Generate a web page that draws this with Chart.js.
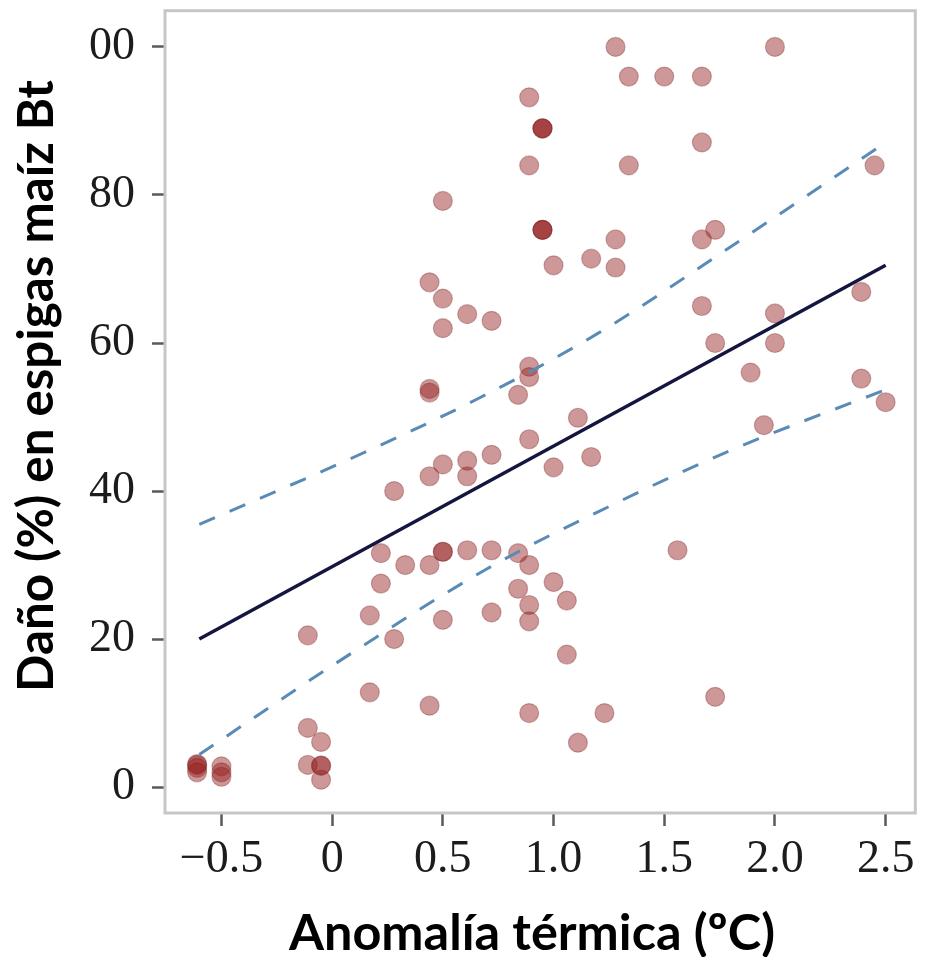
<!DOCTYPE html>
<html><head><meta charset="utf-8">
<script src="https://cdn.jsdelivr.net/npm/chart.js@4/dist/chart.umd.min.js"></script>
<style>html,body{margin:0;padding:0;background:#fff;} canvas{display:block;}</style>
</head><body>
<canvas id="c" width="926" height="957"></canvas>
<script>
const xTitle = 'Anomalía térmica (ºC)';
const yTitle = 'Daño (%) en espigas maíz Bt';
const xTickValues = [-0.5, 0, 0.5, 1, 1.5, 2, 2.5];
const xTickLabels = ['−0.5', '0', '0.5', '1.0', '1.5', '2.0', '2.5'];
const yTickValues = [0, 20, 40, 60, 80, 100];
const yTickLabels = ['0', '20', '40', '60', '80', '00'];

// observations (anomalía térmica, daño %)
const anomalia = [
  1.28, 2.00, 1.34, 1.50, 1.67, 0.89, 0.95, 0.95, 0.95, 1.67,
  0.89, 1.34, 2.45, 0.50, 0.95, 0.95, 0.95, 1.73, 1.28, 1.67,
  1.17, 1.00, 1.28, 2.39, 0.44, 0.50, 1.67, 0.61, 2.00, 0.72,
  0.50, 1.73, 2.00, 0.89, 0.89, 1.89, 2.39, 0.44, 0.44, 0.84,
  2.50, 1.11, 1.95, 0.89, 1.17, 0.72, 0.50, 0.61, 0.61, 0.44,
  1.00, 0.28, 0.22, 0.50, 0.50, 0.61, 0.72, 0.84, 1.56, 0.33,
  0.44, 0.89, 0.22, 1.00, 0.84, 1.06, 0.89, 0.72, 0.17, 0.50,
  0.89, 0.28, -0.11, 1.06, 0.17, 1.73, 0.44, 0.89, 1.23, 1.11,
  -0.11, -0.05, -0.11, -0.05, -0.05, -0.05, -0.61, -0.61, -0.61, -0.61,
  -0.50, -0.50, -0.50
];
const dano = [
  100.0, 100.0, 96.0, 96.0, 96.0, 93.2, 89.0, 89.0, 89.0, 87.1,
  84.0, 84.0, 84.0, 79.2, 75.3, 75.3, 75.3, 75.3, 74.0, 74.0,
  71.4, 70.5, 70.2, 66.9, 68.2, 66.0, 65.0, 63.9, 64.0, 63.0,
  62.0, 60.0, 60.0, 56.8, 55.4, 56.0, 55.2, 53.8, 53.3, 53.0,
  52.0, 49.9, 48.9, 47.0, 44.6, 44.9, 43.6, 44.1, 42.0, 42.0,
  43.2, 40.0, 31.6, 31.8, 31.8, 32.0, 32.0, 31.6, 32.0, 30.0,
  30.0, 30.0, 27.5, 27.7, 26.8, 25.2, 24.6, 23.6, 23.2, 22.6,
  22.4, 20.0, 20.5, 17.9, 12.8, 12.2, 11.0, 10.0, 10.0, 6.0,
  8.0, 6.1, 3.0, 2.9, 2.9, 1.0, 3.1, 3.0, 2.6, 2.0,
  2.8, 2.0, 1.4
];

// fitted regression line
const fitX = [-0.6, 2.5];
const fitY = [20.0, 70.5];
// dashed band limits
const upperX = [-0.6, 0.1, 0.66, 1.2, 1.84, 2.5];
const upperY = [35.5, 44.6, 52.5, 61.3, 73.8, 87.1];
const lowerX = [-0.6, 0.0, 0.7, 1.25, 1.8, 2.5];
const lowerY = [4.4, 16.4, 29.5, 37.9, 45.5, 53.7];

const toXY = (xs, ys) => xs.map((x, i) => ({x: x, y: ys[i]}));

const tickFont = {family: "'Liberation Serif', 'Times New Roman', serif", size: 46};
const titleFamily = "Lato, 'Noto Sans', sans-serif";

function fitFont(ctx, text, target) {
  ctx.font = 'bold 100px ' + titleFamily;
  return 100 * target / ctx.measureText(text).width;
}

const framePlugin = {
  id: 'frameAndTitles',
  afterDraw(chart) {
    const ctx = chart.ctx, a = chart.chartArea;
    ctx.save();
    ctx.strokeStyle = '#c6c6c6';
    ctx.lineWidth = 3;
    ctx.strokeRect(a.left, a.top, a.right - a.left, a.bottom - a.top);
    ctx.fillStyle = '#000';
    // x title
    let fs = fitFont(ctx, xTitle, 486);
    ctx.font = 'bold ' + fs + 'px ' + titleFamily;
    ctx.textAlign = 'center';
    ctx.textBaseline = 'alphabetic';
    ctx.fillText(xTitle, 532, 950);
    // y title
    fs = fitFont(ctx, yTitle, 612);
    ctx.font = 'bold ' + fs + 'px ' + titleFamily;
    ctx.translate(53, 386);
    ctx.rotate(-Math.PI / 2);
    ctx.fillText(yTitle, 0, 0);
    ctx.restore();
  }
};

new Chart(document.getElementById('c'), {
  type: 'scatter',
  data: {
    datasets: [
      {
        type: 'line', data: toXY(fitX, fitY), borderColor: '#15163f', borderWidth: 3.5,
        pointRadius: 0, fill: false, order: 0
      },
      {
        type: 'line', data: toXY(upperX, upperY), borderColor: '#5a8bb6', borderWidth: 3,
        borderDash: [17, 16], pointRadius: 0, fill: false, cubicInterpolationMode: 'monotone', order: 1
      },
      {
        type: 'line', data: toXY(lowerX, lowerY), borderColor: '#5a8bb6', borderWidth: 3,
        borderDash: [17, 16], pointRadius: 0, fill: false, cubicInterpolationMode: 'monotone', order: 1
      },
      {
        data: toXY(anomalia, dano), pointRadius: 9.5, pointHoverRadius: 9.5,
        backgroundColor: 'rgba(150,30,30,0.46)', borderColor: 'rgba(120,40,40,0.35)', borderWidth: 1.2,
        order: 3
      }
    ]
  },
  options: {
    responsive: false,
    animation: false,
    devicePixelRatio: 1,
    layout: {padding: {top: 10, right: 3, left: 0, bottom: 0}},
    plugins: {legend: {display: false}, tooltip: {enabled: false}},
    scales: {
      x: {
        type: 'linear', position: 'bottom', min: -0.755, max: 2.634,
        border: {display: false},
        grid: {drawOnChartArea: false, drawTicks: true, tickLength: 13, tickWidth: 2.5, tickColor: '#5a5a5a'},
        afterBuildTicks: s => { s.ticks = xTickValues.map(v => ({value: v})); },
        afterFit: s => { s.height = 144; s.paddingLeft = 0; s.paddingRight = 0; },
        ticks: {
          font: tickFont, color: '#1c1c1c', padding: 6, maxRotation: 0, autoSkip: false,
          callback: v => { const i = xTickValues.indexOf(v); return i >= 0 ? xTickLabels[i] : ''; }
        }
      },
      y: {
        type: 'linear', position: 'left', min: -3.5, max: 104.9,
        border: {display: false},
        grid: {drawOnChartArea: false, drawTicks: true, tickLength: 13, tickWidth: 2.5, tickColor: '#5a5a5a'},
        afterBuildTicks: s => { s.ticks = yTickValues.map(v => ({value: v})); },
        afterFit: s => { s.width = 165; s.paddingTop = 0; s.paddingBottom = 0; },
        ticks: {
          font: tickFont, color: '#1c1c1c', padding: 17, autoSkip: false,
          callback: v => { const i = yTickValues.indexOf(v); return i >= 0 ? yTickLabels[i] : ''; }
        }
      }
    }
  },
  plugins: [framePlugin]
});
</script>
</body></html>
